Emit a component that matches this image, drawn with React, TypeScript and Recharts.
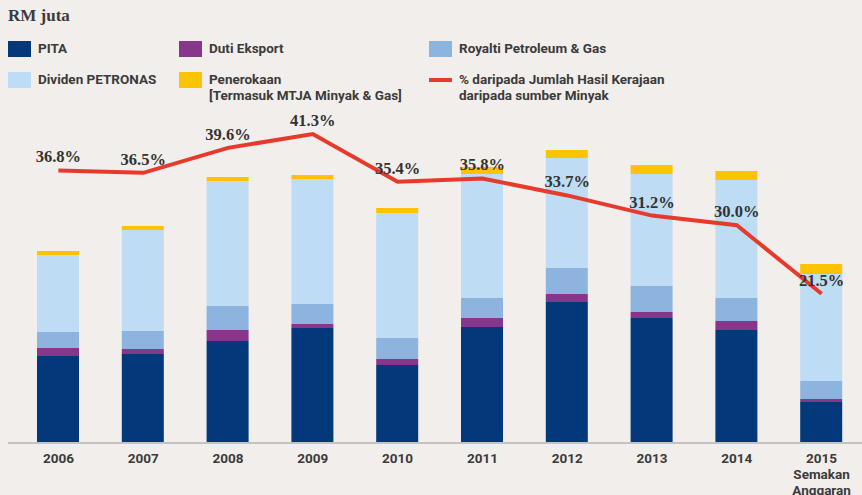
import { Bar, ComposedChart, Line, XAxis, YAxis, LabelList } from "recharts"

const categories = ['2006', '2007', '2008', '2009', '2010', '2011', '2012', '2013', '2014', '2015\nSemakan\nAnggaran']

const pita = [17400, 17800, 20400, 23000, 15600, 23200, 28200, 25000, 22600, 8200]
const dutiEksport = [1600, 1000, 2200, 800, 1200, 1800, 1600, 1200, 1800, 600]
const royalti = [3200, 3600, 4800, 4000, 4200, 4000, 5200, 5200, 4600, 3600]
const dividen = [15400, 20200, 25000, 25000, 25000, 24800, 22000, 22400, 23600, 21400]
const penerokaan = [800, 800, 800, 800, 1000, 1400, 1600, 1800, 1800, 2000]
const peratus = [36.8, 36.5, 39.6, 41.3, 35.4, 35.8, 33.7, 31.2, 30.0, 21.5]

const chartData = categories.map((c, i) => ({
  tahun: c,
  PITA: pita[i],
  'Duti Eksport': dutiEksport[i],
  'Royalti Petroleum & Gas': royalti[i],
  'Dividen PETRONAS': dividen[i],
  Penerokaan: penerokaan[i],
  peratus: peratus[i],
}))

const legendItems = [
  { label: ['PITA'], color: '#03387a', x: 8, y: 41 },
  { label: ['Duti Eksport'], color: '#86368b', x: 179, y: 41 },
  { label: ['Royalti Petroleum & Gas'], color: '#8cb4df', x: 429, y: 41 },
  { label: ['Dividen PETRONAS'], color: '#bedcf4', x: 8, y: 72 },
  { label: ['Penerokaan', '[Termasuk MTJA Minyak & Gas]'], color: '#fec300', x: 179, y: 72 },
  { label: ['% daripada Jumlah Hasil Kerajaan', 'daripada sumber Minyak'], color: '#e63a2c', x: 429, y: 72, line: true },
]

const sansFont = 'Roboto, "DejaVu Sans", sans-serif'
const textColor = '#3b3b3b'

const YearTick = (props: any) => {
  const { x, y, payload } = props
  const lines = String(payload.value).split('\n')
  return (
    <text x={x} y={y} textAnchor="middle" fill={textColor} fontFamily={sansFont} fontWeight={700} fontSize={13.5}>
      {lines.map((l, i) => (
        <tspan key={i} x={x} dy={i === 0 ? 20 : 16}>{l}</tspan>
      ))}
    </text>
  )
}

export default function App() {
  return (
    <div style={{ position: 'absolute', left: 0, top: 0, width: 862, height: 495, overflow: 'hidden', background: '#f2eeeb' }}>
      <div style={{ position: 'absolute', left: 8, top: 6, fontFamily: '"Liberation Serif", serif', fontWeight: 700, fontSize: 17, color: textColor }}>
        RM juta
      </div>
      {legendItems.map(item => (
        <div key={item.label[0]} style={{ position: 'absolute', left: item.x, top: item.y }}>
          {item.line ? (
            <div style={{ position: 'absolute', left: 0, top: 6, width: 23, height: 4, background: item.color }} />
          ) : (
            <div style={{ position: 'absolute', left: 0, top: 0, width: 23, height: 16, background: item.color }} />
          )}
          <div style={{ position: 'absolute', left: 30, top: -1, whiteSpace: 'nowrap', fontFamily: sansFont, fontWeight: 700, fontSize: 13.5, lineHeight: '16px', color: textColor }}>
            {item.label.map(l => <div key={l}>{l}</div>)}
          </div>
        </div>
      ))}
      <ComposedChart
        width={864}
        height={495}
        data={chartData}
        margin={{ top: 93, right: 0, left: 8, bottom: 2 }}
        style={{ position: 'absolute', left: 0, top: 0 }}
      >
        <XAxis
          dataKey="tahun"
          interval={0}
          padding={{ left: 8, right: 0 }}
          height={50}
          tickLine={false}
          tickSize={0}
          tickMargin={0}
          axisLine={{ stroke: '#c6c2bf', strokeWidth: 2 }}
          tick={<YearTick />}
        />
        <YAxis yAxisId="rm" hide domain={[0, 70000]} />
        <YAxis yAxisId="pct" hide orientation="right" domain={[3.0, 46.4]} />
        <Bar yAxisId="rm" dataKey="PITA" stackId="a" fill="#03387a" barSize={42} isAnimationActive={false} />
        <Bar yAxisId="rm" dataKey="Duti Eksport" stackId="a" fill="#86368b" barSize={42} isAnimationActive={false} />
        <Bar yAxisId="rm" dataKey="Royalti Petroleum & Gas" stackId="a" fill="#8cb4df" barSize={42} isAnimationActive={false} />
        <Bar yAxisId="rm" dataKey="Dividen PETRONAS" stackId="a" fill="#bedcf4" barSize={42} isAnimationActive={false} />
        <Bar yAxisId="rm" dataKey="Penerokaan" stackId="a" fill="#fec300" barSize={42} isAnimationActive={false} />
        <Line
          yAxisId="pct"
          dataKey="peratus"
          type="linear"
          stroke="#e63a2c"
          strokeWidth={4}
          dot={false}
          activeDot={false}
          isAnimationActive={false}
        >
          <LabelList
            dataKey="peratus"
            position="top"
            offset={8}
            formatter={(v: any) => `${Number(v).toFixed(1)}%`}
            fill="#333333"
            fontFamily='"Liberation Serif", serif'
            fontWeight={700}
            fontSize={16.5}
          />
        </Line>
      </ComposedChart>
    </div>
  )
}
